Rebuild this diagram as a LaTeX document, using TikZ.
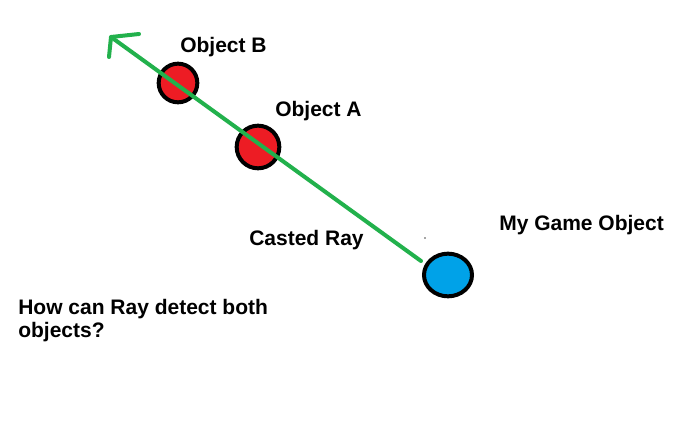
\documentclass[tikz,border=0pt]{standalone}
\usepackage{fontspec}
\usetikzlibrary{shapes.geometric}
\setmainfont{Liberation Sans}
\definecolor{raygreen}{HTML}{22B14C}
\definecolor{objred}{HTML}{ED1C24}
\definecolor{myblue}{HTML}{00A2E8}
\begin{document}
\begin{tikzpicture}[x=0.75pt,y=-0.75pt,
  lbl/.style={font=\fontsize{15.75pt}{17.25pt}\selectfont\bfseries, inner sep=0pt, anchor=base west, text=black},
  obj/.style={draw=black, line width=3pt, fill=objred, circle, inner sep=0pt, minimum size=#1},
  ray/.style={draw=raygreen, line width=3pt, line cap=round, line join=round}]
\useasboundingbox[fill=white] (0,0) rectangle (696,427);
% objects
\node[obj=29pt] (objB) at (178,83) {};
\node[obj=32pt] (objA) at (258,147) {};
\node[draw=black, line width=3pt, fill=myblue, ellipse, inner sep=0pt, minimum width=36pt, minimum height=32pt] (mine) at (448,275) {};
% ray
\coordinate (raystart) at (421,261);
\coordinate (tip) at (111,37);
\coordinate (armU) at (139,34);
\coordinate (armL) at (109,57);
\draw[ray] (raystart) -- (tip);
\draw[ray] (armU) -- (tip) -- (armL);
% small dot
\fill[black!70] (425,238) circle (0.6pt);
% labels
\node[lbl] (lB) at (180,53) {Object B};
\node[lbl] (lA) at (275,117) {Object A};
\node[lbl] (lM) at (499,231) {My Game Object};
\node[lbl] (lR) at (249,246) {Casted Ray};
\node[lbl, anchor=north west, align=left] (lQ) at (18,299) {How can Ray detect both\\objects?};
\end{tikzpicture}
\end{document}
